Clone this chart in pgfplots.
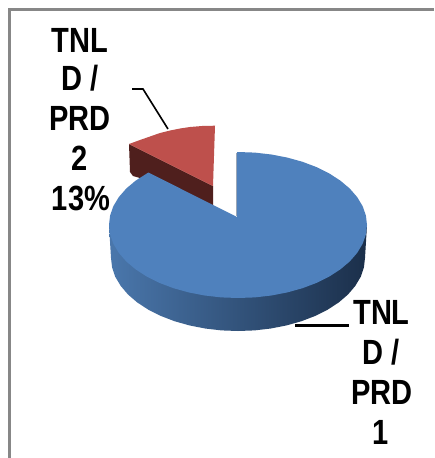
\documentclass[border=0pt]{standalone}
\usepackage{graphicx}
\usepackage{fontspec}
\setmainfont{Liberation Sans}
\usepackage{pgfplots}
\pgfplotsset{compat=1.18}
\definecolor{pieblue}{HTML}{4F81BD}
\definecolor{piered}{HTML}{BE504C}
\definecolor{darkred}{HTML}{4F1F1D}
\definecolor{sideL}{HTML}{4A77AC}
\definecolor{sideM}{HTML}{2C4B72}
\definecolor{sideR}{HTML}{1B2F4A}
\definecolor{sliver}{HTML}{9AA6B6}
\newcommand{\lab}[1]{\scalebox{0.83}[1]{\fontsize{35}{35}\selectfont\bfseries #1}}
\begin{document}
\begin{tikzpicture}
\begin{axis}[
  scale only axis, width=434pt, height=458pt,
  xmin=0, xmax=434, ymin=0, ymax=458, y dir=reverse,
  hide axis, clip=true
]
% page background
\addplot[draw=none, fill=white] coordinates {(0,0) (434,0) (434,458) (0,458)} --cycle;
% frame
\addplot[draw=black!47, line width=2.6pt] coordinates {(9.5,458) (9.5,9.5) (434,9.5)};
% red slice: side then top
\addplot[draw=none, fill=darkred] coordinates {(129,144) (213,186) (213,208) (140,178) (133,176) (130,172)} --cycle;
\addplot[draw=none, fill=piered] coordinates {(129,144) (140,140) (150,136.5) (160,133) (170,130.5) (180,128.5) (190,127) (202,126) (215,125.7) (213,186)} --cycle;
% blue slice: side
\addplot[draw=none, left color=sideL, middle color=sideM, right color=sideR] coordinates {
 (367,225) (365,258) (363.9,267.5) (360.7,276.9) (355.3,285.9) (348,294.5) (338.8,302.4) (327.8,309.6) (315.3,315.9) (301.5,321.2) (286.6,325.4) (270.9,328.5) (254.6,330.4) (238,331)
 (221.4,330.4) (205.1,328.5) (189.4,325.4) (174.5,321.2) (160.7,315.9) (148.2,309.6) (137.2,302.4) (128,294.5) (120.7,285.9) (115.3,276.9) (112.1,267.5) (111,258) (109,225)} --cycle;
% inner edge of the cut
\addplot[draw=sliver, line width=1pt] coordinates {(236.6,153) (236.6,216)};
% blue slice: top
\addplot[draw=none, fill=pieblue] coordinates {
 (237,217) (237,152) (238,152) (254.8,152.6) (271.4,154.5) (287.4,157.6) (302.5,161.8) (316.5,167.1) (329.2,173.4) (340.3,180.6) (349.7,188.5) (357.2,197.1) (362.6,206.1) (365.9,215.5) (367,225)
 (365.9,234.5) (362.6,243.9) (357.2,252.9) (349.7,261.5) (340.3,269.4) (329.2,276.6) (316.5,282.9) (302.5,288.2) (287.4,292.4) (271.4,295.5) (254.8,297.4) (238,298)
 (221.2,297.4) (204.6,295.5) (188.6,292.4) (173.5,288.2) (159.5,282.9) (146.8,276.6) (135.7,269.4) (126.3,261.5) (118.8,252.9) (113.4,243.9) (110.1,234.5) (109,225)
 (110.1,215.5) (113.4,206.1) (118.8,197.1) (126.3,188.5) (135.7,180.6) (148.4,172.5)} --cycle;
% leader lines
\addplot[draw=black, line width=1.6pt] coordinates {(132,89) (143,89) (168,129)};
\addplot[draw=black, line width=3pt] coordinates {(295,325) (349,325)};
% labels
\node[anchor=base] at (axis cs:80,52) {\lab{TNL}};
\node[anchor=base] at (axis cs:80,90) {\lab{D /}};
\node[anchor=base] at (axis cs:80,130.5) {\lab{PRD}};
\node[anchor=base] at (axis cs:80,170) {\lab{2}};
\node[anchor=base] at (axis cs:81,210) {\lab{13\%}};
\node[anchor=base] at (axis cs:381.5,324) {\lab{TNL}};
\node[anchor=base] at (axis cs:381,364) {\lab{D /}};
\node[anchor=base] at (axis cs:382,404) {\lab{PRD}};
\node[anchor=base] at (axis cs:381,444) {\lab{1}};
\end{axis}
\end{tikzpicture}
\end{document}
